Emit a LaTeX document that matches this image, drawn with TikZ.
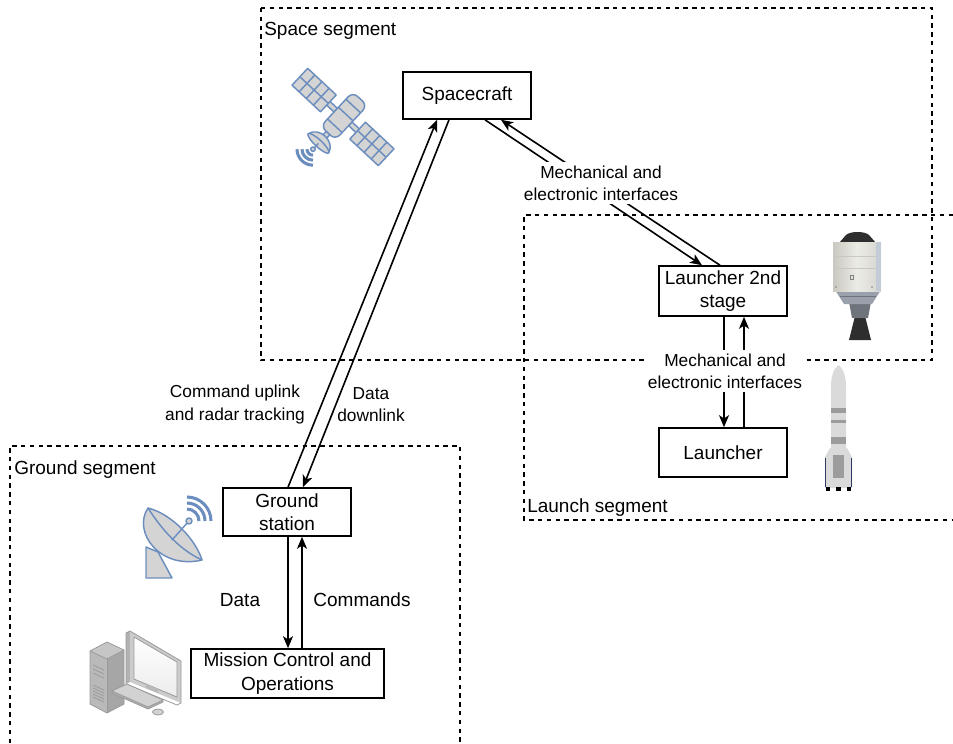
\documentclass[tikz,border=0pt]{standalone}
\usepackage{fontspec}
\setmainfont{Liberation Sans}
\usetikzlibrary{arrows.meta,calc}
\definecolor{iconblue}{HTML}{6C8EBF}
\definecolor{icongrey}{HTML}{D4D4D4}
\definecolor{capdark}{HTML}{2E2E2E}
\definecolor{capmid}{HTML}{6E737C}
\definecolor{capskirt}{HTML}{9AA0AC}
\definecolor{capL}{HTML}{C9C9C2}
\definecolor{capM}{HTML}{ECECE6}
\definecolor{capR}{HTML}{D6D6CF}
\definecolor{capstripe}{HTML}{C3CCD6}
\definecolor{rbody}{HTML}{DADADA}
\definecolor{rband}{HTML}{9C9C9C}
\definecolor{rnavy}{HTML}{2C3A66}
\definecolor{pcedge}{HTML}{9A9A9A}
\begin{document}
\begin{tikzpicture}[x=0.75pt,y=-0.75pt,
  txt/.style={font=\fontsize{14.25}{17.5}\selectfont, align=center, inner sep=1pt},
  edgetxt/.style={font=\fontsize{13}{16.8}\selectfont, align=center, inner sep=1pt},
  block/.style={txt, draw=black, line width=1.2pt, fill=white, inner sep=0pt},
  segment/.style={draw=black, line width=1.1pt, dash pattern=on 3.3pt off 3.3pt},
  link/.style={line width=1.2pt, -{Stealth[length=9pt,width=7.5pt,inset=2.4pt]}},
  lbl/.style={edgetxt, fill=white, inner sep=2.5pt},
  icon/.style={draw=iconblue, fill=icongrey, line width=1.1pt, line join=round},
  iconline/.style={draw=iconblue, line width=1.1pt},
  wave/.style={draw=iconblue, line width=2.3pt},
  pc/.style={draw=pcedge, line width=0.6pt, line join=round},
]
\useasboundingbox (0,0) rectangle (953,743);

% ---------- segment frames ----------
\draw[segment] (261,8) rectangle (932,360);
\draw[segment] (953,215) -- (524,215) -- (524,520) -- (953,520);
\draw[segment] (10,743) -- (10,446) -- (460,446) -- (460,743);
\node[txt, anchor=base west, inner sep=0pt] (spacelbl) at (264,35) {Space segment};
\node[txt, anchor=base west, inner sep=0pt] (groundlbl) at (14,474) {Ground segment};
\node[txt, anchor=base west, inner sep=0pt] (launchlbl) at (527,512) {Launch segment};

% ---------- satellite ----------
\begin{scope}[shift={(343,117)}, rotate=-43]
  \draw[icon] (-59,-11.5) rectangle (-20,11.5);
  \draw[icon] (20,-11.5) rectangle (59,11.5);
  \foreach \gx in {-49.25,-39.5,-29.75,29.75,39.5,49.25}
    \draw[iconline] (\gx,-11.5) -- (\gx,11.5);
  \draw[iconline] (-59,0) -- (-20,0);
  \draw[iconline] (20,0) -- (59,0);
  \draw[icon] (-20,-2.5) rectangle (-10,2.5);
  \draw[icon] (10,-2.5) rectangle (20,2.5);
  \draw[icon, rounded corners=5] (-10,-25) rectangle (10,22);
  \draw[iconline] (-10,-15) -- (10,-15);
  \draw[iconline] (-10,-4) -- (10,-4);
  \draw[iconline] (-10,12) -- (10,12);
  \draw[icon] (-2.5,22) rectangle (2.5,27);
  \draw[icon] (-14,36) .. controls (-11,23) and (11,23) .. (14,36) -- cycle;
  \draw[icon] (0,36) ellipse [x radius=14, y radius=3.5];
  \draw[iconline] (0,36) -- (0,42);
  \draw[icon] (0,44) circle [radius=2.2];
  \foreach \r in {6,11,16}
    \draw[wave] ($(0,44)+(47:\r)$) arc[start angle=47, end angle=137, radius=\r];
\end{scope}

% ---------- capsule ----------
\fill[capdark] (855,316) -- (865,316) -- (871,340) -- (849,340) -- cycle;
\fill[capmid] (849,302) -- (871,302) -- (868,318) -- (852,318) -- cycle;
\fill[capskirt] (835,290) -- (881,290) -- (872,304) -- (844,304) -- cycle;
\draw[capmid, line width=0.6pt] (840,296) -- (876,296);
\fill[capdark] (839,243) -- (846,235) .. controls (850,231) and (865,231) .. (869,235) -- (876,243) -- cycle;
\shade[left color=capL, right color=capR, middle color=capM] (833,242) rectangle (881,291);
\fill[capstripe] (876,242) rectangle (881,291);
\draw[capL, line width=0.5pt] (833,256) -- (876,256);
\draw[capL, line width=0.5pt] (833,268) -- (876,268);
\draw[gray, line width=0.4pt] (850,275) rectangle (853,279);
\fill[gray] (836,287) circle [radius=0.9];
\fill[gray] (872,287) circle [radius=0.9];

% ---------- rocket ----------
\fill[rbody] (825,488) -- (825,457) -- (830,448) -- (831,448) -- (831,488) -- cycle;
\fill[rbody] (852,488) -- (852,457) -- (847,448) -- (846,448) -- (846,488) -- cycle;
\draw[rnavy, line width=0.9pt] (825.5,458) -- (825.5,487);
\draw[rnavy, line width=0.9pt] (851.5,458) -- (851.5,487);
\fill[rbody] (831,386) .. controls (831,376) and (834,368) .. (838.5,365)
  .. controls (843,368) and (846,376) .. (846,386) -- (846,488) -- (831,488) -- cycle;
\fill[rband] (831,408) rectangle (846,413);
\fill[rband] (831,420) rectangle (846,422.5);
\fill[rband] (831,437) rectangle (846,444);
\fill[rband] (833,455) rectangle (844,478);
\fill[black] (826,487) rectangle (830,491);
\fill[black] (836,487) rectangle (841,491);
\fill[black] (847,487) rectangle (851,491);

% ---------- ground antenna ----------
\draw[icon] (146,547) -- (158,552) -- (172,578) -- (146,578) -- cycle;
\draw[icon] (148,508) .. controls (132,532) and (160,570) .. (202,560)
  .. controls (196,540) and (172,514) .. (148,508) -- cycle;
\draw[iconline] (148,508) .. controls (162,530) and (180,550) .. (202,560);
\draw[iconline] (172,540) -- (188,522);
\draw[icon] (189,521) circle [radius=3];
\foreach \r in {12,18,24}
  \draw[wave] ($(187,521)+(-90:\r)$) arc[start angle=-90, end angle=0, radius=\r];

% ---------- computer ----------
\fill[gray!45] (90,651) -- (107,642) -- (124,650) -- (107,659) -- cycle;
\fill[gray!55] (90,651) -- (107,659) -- (107,713) -- (90,704) -- cycle;
\fill[gray!70] (107,659) -- (124,650) -- (124,704) -- (107,713) -- cycle;
\draw[pc] (90,651) -- (107,642) -- (124,650) -- (124,704) -- (107,713) -- (90,704) -- cycle;
\draw[pc] (90,651) -- (107,659) -- (124,650);
\draw[pc] (107,659) -- (107,713);
\foreach \dy in {0,4,8}
  \draw[pc] (93,665+\dy) -- (104,670+\dy);
\foreach \dy in {0,3,6,9,12}
  \draw[pc] (93,685+\dy) -- (104,690+\dy);
\fill[gray!60] (126,633) -- (130,631) -- (130,682) -- (126,684) -- cycle;
\fill[gray!40] (130,631) -- (181,661) -- (181,703) -- (130,682) -- cycle;
\draw[pc] (126,633) -- (130,631) -- (181,661) -- (181,703) -- (177,705) -- (126,684) -- cycle;
\shade[top color=white, bottom color=gray!15] (134,637) -- (177,662) -- (177,697) -- (134,679) -- cycle;
\draw[pc] (134,637) -- (177,662) -- (177,697) -- (134,679) -- cycle;
\fill[gray!55] (146,684) -- (158,689) -- (158,693) -- (146,688) -- cycle;
\fill[gray!60] (112,691) -- (148,707) -- (163,700) -- (163,702) -- (148,709) -- (112,693) -- cycle;
\fill[gray!35] (112,691) -- (127,684) -- (163,700) -- (148,707) -- cycle;
\draw[pc] (112,691) -- (127,684) -- (163,700) -- (163,702) -- (148,709) -- (112,693) -- cycle;
\draw[pc] (112,691) -- (148,707) -- (163,700);
\draw[pc, fill=gray!35] (158,712) ellipse [x radius=5.5, y radius=3];

% ---------- blocks ----------
\node[block, minimum width=96pt, minimum height=35.25pt] (sc) at (467,95.5) {Spacecraft};
\node[block, minimum width=96pt, minimum height=37.5pt] (l2) at (723,291) {Launcher 2nd\\stage};
\node[block, minimum width=96pt, minimum height=36.75pt] (ln) at (723,452.5) {Launcher};
\node[block, minimum width=96pt, minimum height=36pt] (gs) at (287,512) {Ground\\station};
\node[block, minimum width=144.75pt, minimum height=36.75pt] (mc) at (287.5,673.5) {Mission Control and\\Operations};

% ---------- connectors ----------
\draw[link] ([xshift=0.75pt]gs.north) -- ([xshift=-22.5pt]sc.south);
\draw[link] ([xshift=-13.5pt]sc.south) -- ([xshift=12pt]gs.north);
\draw[link] ([xshift=13.5pt]sc.south) -- ([xshift=-15.75pt]l2.north);
\draw[link] ([xshift=-2.25pt]l2.north) -- ([xshift=25.5pt]sc.south);
\draw[link] ([xshift=0.75pt]l2.south) -- ([xshift=0.75pt]ln.north);
\draw[link] ([xshift=15.75pt]ln.north) -- ([xshift=15.75pt]l2.south);
\draw[link] ([xshift=0.75pt]gs.south) -- ([xshift=0.75pt]gs.south |- mc.north);
\draw[link] ([xshift=11.25pt]gs.south |- mc.north) -- ([xshift=11.25pt]gs.south);

% ---------- labels ----------
\node[lbl] (if1) at (601,183) {Mechanical and\\electronic interfaces};
\node[lbl] (if2) at (725,371) {Mechanical and\\electronic interfaces};
\node[edgetxt] (uplbl) at (235,404.5) {Command uplink\\and radar tracking};
\node[edgetxt] (dnlbl) at (371,404.5) {Data\\downlink};
\node[txt] (datalbl) at (240,600) {Data};
\node[txt] (cmdlbl) at (362,600) {Commands};
\end{tikzpicture}
\end{document}
